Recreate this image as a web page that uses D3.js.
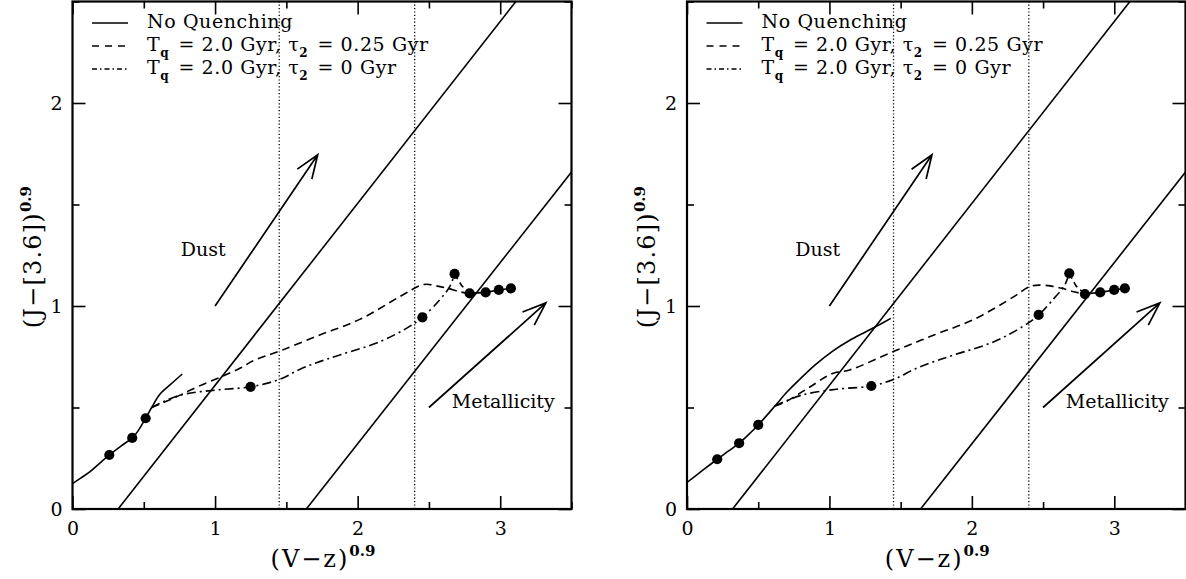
<!DOCTYPE html>
<html><head><meta charset="utf-8">
<script src="https://cdn.jsdelivr.net/npm/d3@7"></script>
<style>
html,body{margin:0;padding:0;background:#fff;}
svg text{font-family:"DejaVu Serif",serif;fill:#000;}
</style></head>
<body><svg id="c" width="1186" height="579"></svg>
<script>
// ---- data ----
const xMajorTicks = [0, 1, 2, 3];
const xMinorTicks = [0.5, 1.5, 2.5, 3.5];
const yMajorTicks = [0, 1, 2];
const yMinorTicks = [0.5, 1.5, 2.5];
const xDomain = [0, 3.5];
const yDomain = [0, 2.5];
const vLines = [1.45, 2.4];
const reddeningLines = [[[0.32, 0], [3.11, 2.5]], [[1.64, 0], [3.5, 1.66]]];
const dustArrow = [[1.0, 1.0], [1.72, 1.745]];
const metalArrow = [[2.5, 0.5], [3.32, 1.015]];
const dustLabel = [0.76, 1.245];
const metalLabel = [2.66, 0.5];
const legendLabels = ["No Quenching", "T_q = 2.0 Gyr, τ_2 = 0.25 Gyr", "T_q = 2.0 Gyr, τ_2 = 0 Gyr"];

// left panel
const leftNoQ = [[0, 0.125], [0.06, 0.153], [0.123, 0.184], [0.19, 0.225], [0.258, 0.266], [0.34, 0.31], [0.419, 0.35], [0.46, 0.385], [0.513, 0.447], [0.555, 0.50], [0.613, 0.565], [0.69, 0.615], [0.77, 0.665]];
const leftNoQDots = [[0.258, 0.266], [0.419, 0.35], [0.513, 0.447]];
const leftTau25 = [[0.555, 0.50], [0.706, 0.545], [0.87, 0.6], [1.045, 0.652], [1.174, 0.693], [1.267, 0.73], [1.454, 0.778], [1.734, 0.857], [2.015, 0.934], [2.295, 1.046], [2.435, 1.10], [2.482, 1.107], [2.56, 1.098], [2.634, 1.087], [2.716, 1.07], [2.786, 1.062]];
const leftTau0 = [[0.555, 0.50], [0.75, 0.56], [1.01, 0.586], [1.249, 0.602], [1.454, 0.639], [1.6, 0.69], [1.734, 0.726], [1.875, 0.759], [2.155, 0.824], [2.342, 0.89], [2.454, 0.944], [2.575, 1.03], [2.646, 1.095], [2.68, 1.158]];
const leftTau0Tail = [[2.68, 1.158], [2.73, 1.10], [2.786, 1.062]];
const leftTau0Dots = [[1.249, 0.602], [2.454, 0.944], [2.68, 1.158]];
const leftEndDots = [[2.786, 1.062], [2.898, 1.067], [2.99, 1.079], [3.075, 1.087]];

// right panel
const rightNoQ = [[0, 0.131], [0.1, 0.185], [0.212, 0.245], [0.29, 0.285], [0.366, 0.324], [0.43, 0.365], [0.5, 0.414], [0.617, 0.507], [0.7, 0.575], [0.79, 0.638], [0.9, 0.71], [1.023, 0.778], [1.14, 0.83], [1.256, 0.873], [1.35, 0.908], [1.431, 0.939]];
const rightNoQDots = [[0.212, 0.245], [0.366, 0.324], [0.5, 0.414]];
const rightTau25 = [[0.617, 0.507], [0.695, 0.529], [0.86, 0.6], [1.023, 0.668], [1.142, 0.685], [1.457, 0.778], [1.734, 0.857], [2.015, 0.934], [2.295, 1.046], [2.404, 1.095], [2.474, 1.103], [2.56, 1.098], [2.634, 1.087], [2.716, 1.07], [2.794, 1.059]];
const rightTau0 = [[0.617, 0.507], [0.8, 0.56], [1.05, 0.59], [1.294, 0.606], [1.457, 0.64], [1.6, 0.69], [1.734, 0.726], [1.875, 0.759], [2.155, 0.824], [2.36, 0.9], [2.469, 0.956], [2.58, 1.04], [2.65, 1.1], [2.684, 1.161]];
const rightTau0Tail = [[2.684, 1.161], [2.73, 1.10], [2.794, 1.059]];
const rightTau0Dots = [[1.294, 0.606], [2.469, 0.956], [2.684, 1.161]];
const rightEndDots = [[2.794, 1.059], [2.901, 1.067], [2.999, 1.079], [3.074, 1.087]];

const panels = [
  {x0: 72.5, x1: 571.5, noQ: leftNoQ, noQDots: leftNoQDots, tau25: leftTau25, tau0: leftTau0, tau0Tail: leftTau0Tail, tau0Dots: leftTau0Dots, endDots: leftEndDots},
  {x0: 687, x1: 1185.5, noQ: rightNoQ, noQDots: rightNoQDots, tau25: rightTau25, tau0: rightTau0, tau0Tail: rightTau0Tail, tau0Dots: rightTau0Dots, endDots: rightEndDots}
];

const svg = d3.select("#c");
const yTop = 1.5, yBot = 509;
const DASH = "8,5", DASHDOT = "9,4,2,4", DOT = "1.2,2.2";

panels.forEach(p => {
  const x = d3.scaleLinear().domain(xDomain).range([p.x0, p.x1]);
  const y = d3.scaleLinear().domain(yDomain).range([yBot, yTop]);
  const g = svg.append("g");
  const line = d3.line().x(d => x(d[0])).y(d => y(d[1]));
  const smooth = d3.line().x(d => x(d[0])).y(d => y(d[1])).curve(d3.curveCatmullRom.alpha(0.5));

  const clipId = "clip" + Math.round(p.x0);
  svg.append("defs").append("clipPath").attr("id", clipId).append("rect")
    .attr("x", p.x0).attr("y", yTop).attr("width", p.x1 - p.x0).attr("height", yBot - yTop);
  const pg = g.append("g").attr("clip-path", `url(#${clipId})`);

  // dotted verticals
  vLines.forEach(v => pg.append("line").attr("x1", x(v)).attr("x2", x(v)).attr("y1", y(0)).attr("y2", y(2.5))
    .attr("stroke", "#000").attr("stroke-width", 1.3).attr("stroke-dasharray", DOT));
  // reddening lines
  reddeningLines.forEach(l => pg.append("path").attr("d", line(l)).attr("fill", "none").attr("stroke", "#000").attr("stroke-width", 1.6));

  // arrows
  [dustArrow, metalArrow].forEach(a => {
    const [sx, sy] = [x(a[0][0]), y(a[0][1])], [tx, ty] = [x(a[1][0]), y(a[1][1])];
    const ang = Math.atan2(ty - sy, tx - sx), L = 25, h = 0.36;
    const b1 = [tx - L * Math.cos(ang - h), ty - L * Math.sin(ang - h)];
    const b2 = [tx - L * Math.cos(ang + h), ty - L * Math.sin(ang + h)];
    pg.append("path").attr("d", `M${sx},${sy}L${tx},${ty}M${b1[0]},${b1[1]}L${tx},${ty}L${b2[0]},${b2[1]}`)
      .attr("fill", "none").attr("stroke", "#000").attr("stroke-width", 1.7);
  });

  // curves
  pg.append("path").attr("d", smooth(p.noQ)).attr("fill", "none").attr("stroke", "#000").attr("stroke-width", 1.6);
  pg.append("path").attr("d", smooth(p.tau25)).attr("fill", "none").attr("stroke", "#000").attr("stroke-width", 1.6).attr("stroke-dasharray", DASH);
  pg.append("path").attr("d", smooth(p.tau0)).attr("fill", "none").attr("stroke", "#000").attr("stroke-width", 1.6).attr("stroke-dasharray", DASHDOT);
  pg.append("path").attr("d", line(p.tau0Tail)).attr("fill", "none").attr("stroke", "#000").attr("stroke-width", 1.6).attr("stroke-dasharray", "6,4");
  pg.append("path").attr("d", line(p.endDots)).attr("fill", "none").attr("stroke", "#000").attr("stroke-width", 1.6);

  // dots
  [...p.noQDots, ...p.tau0Dots, ...p.endDots].forEach(d =>
    pg.append("circle").attr("cx", x(d[0])).attr("cy", y(d[1])).attr("r", 5.1).attr("fill", "#000"));

  // labels
  g.append("text").attr("x", x(dustLabel[0])).attr("y", y(dustLabel[1])).attr("font-size", 19).text("Dust");
  g.append("text").attr("x", x(metalLabel[0])).attr("y", y(metalLabel[1])).attr("font-size", 19).text("Metallicity");

  // axes (ticks inward)
  const mk = (axisFn, scale, ticks, size, labels) => axisFn(scale).tickValues(ticks).tickSize(size).tickSizeOuter(0).tickFormat(labels ? d3.format("d") : "");
  const styleAxis = sel => {
    sel.select(".domain").remove();
    sel.selectAll("line").attr("stroke", "#000").attr("stroke-width", 1.6);
    sel.selectAll("text").attr("font-family", "DejaVu Serif").attr("font-size", 19).attr("fill", "#000");
  };
  g.append("g").attr("transform", `translate(0,${yBot})`).call(mk(d3.axisBottom, x, xMajorTicks, -13, true)).call(styleAxis)
    .selectAll("text").attr("dy", null).attr("y", 26);
  g.append("g").attr("transform", `translate(0,${yBot})`).call(mk(d3.axisBottom, x, xMinorTicks, -7, false)).call(styleAxis);
  g.append("g").attr("transform", `translate(0,${yTop})`).call(mk(d3.axisTop, x, xMajorTicks, -13, false)).call(styleAxis);
  g.append("g").attr("transform", `translate(0,${yTop})`).call(mk(d3.axisTop, x, xMinorTicks, -7, false)).call(styleAxis);
  g.append("g").attr("transform", `translate(${p.x0},0)`).call(mk(d3.axisLeft, y, yMajorTicks, -13, true)).call(styleAxis)
    .selectAll("text").attr("x", -10).attr("dy", "0.36em");
  g.append("g").attr("transform", `translate(${p.x0},0)`).call(mk(d3.axisLeft, y, yMinorTicks, -7, false)).call(styleAxis);
  g.append("g").attr("transform", `translate(${p.x1},0)`).call(mk(d3.axisRight, y, yMajorTicks, -13, false)).call(styleAxis);
  g.append("g").attr("transform", `translate(${p.x1},0)`).call(mk(d3.axisRight, y, yMinorTicks, -7, false)).call(styleAxis);

  // frame
  g.append("rect").attr("x", p.x0).attr("y", yTop).attr("width", p.x1 - p.x0).attr("height", yBot - yTop)
    .attr("fill", "none").attr("stroke", "#000").attr("stroke-width", 2.2);

  // axis titles
  const xt = g.append("text").attr("x", (p.x0 + p.x1) / 2 + 1).attr("y", 567).attr("text-anchor", "middle").attr("font-size", 24);
  xt.append("tspan").attr("letter-spacing", 2).text("(V\u2212z)");
  xt.append("tspan").attr("dy", -11).attr("font-size", 15).attr("font-weight", "bold").text("0.9");
  const yt = g.append("text").attr("transform", `translate(${p.x0 - 32},${186}) rotate(-90)`).attr("text-anchor", "end").attr("font-size", 24);
  yt.append("tspan").attr("letter-spacing", 1.2).text("(J\u2212[3.6])");
  yt.append("tspan").attr("dy", -10).attr("font-size", 15).attr("font-weight", "bold").text("0.9");

  // legend
  const lx0 = p.x0 + 19.5, lx1 = p.x0 + 55.5, tx = p.x0 + 74.5;
  const rows = [28, 51, 74];
  const dashes = [null, "7,6", "5,3,1.5,3"];
  rows.forEach((ry, i) => {
    g.append("line").attr("x1", lx0).attr("x2", lx1).attr("y1", ry - 5).attr("y2", ry - 5)
      .attr("stroke", "#000").attr("stroke-width", 1.6).attr("stroke-dasharray", dashes[i]);
    const t = g.append("text").attr("x", tx).attr("y", ry).attr("font-size", 19).attr("letter-spacing", 0.6);
    const lab = legendLabels[i];
    const parts = lab.split(/(_\w)/);
    parts.forEach(s => {
      if (s.startsWith("_")) {
        t.append("tspan").attr("dy", 6).attr("font-size", 12).attr("font-weight", "bold").text(s.slice(1));
        t.append("tspan").attr("dy", -6).text("\u200a");
      } else {
        t.append("tspan").text(s);
      }
    });
  });
});
</script></body></html>
